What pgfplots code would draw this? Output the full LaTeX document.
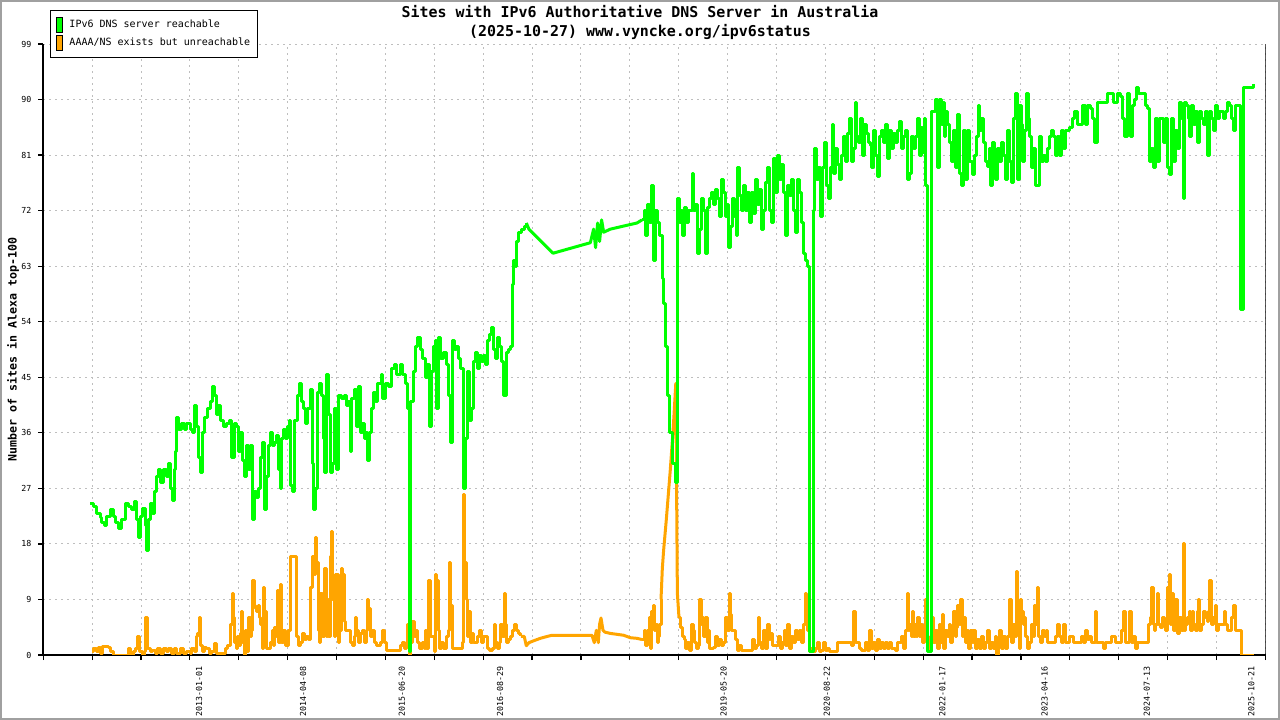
\documentclass[border=0pt]{standalone}
\usepackage{pgfplots}
\pgfplotsset{compat=1.18}
\usepackage{pgfplotstable}
\usepackage{fontspec}
\newfontfamily\mono{DejaVu Sans Mono}
\newcommand\tickfont{\mono\fontsize{4.15bp}{5bp}\selectfont}
\newcommand\legfont{\mono\fontsize{5bp}{6bp}\selectfont}
\newcommand\titlefont{\mono\bfseries\fontsize{7.47bp}{9.5bp}\selectfont}
\newcommand\ylabfont{\mono\bfseries\fontsize{5.81bp}{7bp}\selectfont}
\definecolor{GreenC}{RGB}{0,255,0}
\definecolor{OrangeC}{RGB}{255,165,0}
\definecolor{GridC}{RGB}{190,190,190}
\definecolor{FrameC}{RGB}{160,160,160}

\pgfplotstableread{
year v
2011.673 24.5
2011.713 24
2011.755 23
2011.795 22.3
2011.816 21.5
2011.844 21
2011.876 22.5
2011.917 23.5
2011.957 22.5
2011.977 21.5
2012.018 20.5
2012.059 22
2012.099 24.5
2012.139 24
2012.181 23.5
2012.209 24.8
2012.233 22
2012.261 19
2012.282 22.5
2012.306 23.8
2012.346 21
2012.363 17
2012.383 22
2012.404 24.5
2012.428 23
2012.452 26.5
2012.477 29
2012.505 30
2012.534 28
2012.565 30
2012.598 29
2012.626 31
2012.656 27
2012.671 25
2012.696 30
2012.712 33
2012.729 38.5
2012.753 36.5
2012.781 37.5
2012.817 36.5
2012.850 37.5
2012.890 36.5
2012.923 36
2012.948 40.5
2012.972 37
2012.996 32
2013.021 29.5
2013.045 36
2013.069 38.5
2013.101 40
2013.134 41
2013.167 43.5
2013.191 42
2013.207 39
2013.235 40.5
2013.264 38
2013.296 37
2013.337 37.5
2013.369 38
2013.398 32
2013.426 37.5
2013.459 37
2013.483 33
2013.508 36
2013.532 31.5
2013.556 29
2013.581 34
2013.605 30
2013.629 34
2013.654 22
2013.678 26.5
2013.702 25.5
2013.727 27
2013.751 32
2013.775 34.5
2013.791 23.5
2013.816 29
2013.840 34
2013.864 36
2013.897 34
2013.922 34.5
2013.946 35.5
2013.970 30
2013.986 27
2014.002 35
2014.026 36.5
2014.051 35
2014.075 37
2014.099 38
2014.116 27.5
2014.141 26.5
2014.165 38
2014.197 42
2014.221 44
2014.245 41
2014.270 40
2014.294 37.5
2014.318 40
2014.351 43
2014.376 31
2014.391 23.5
2014.416 27
2014.440 42.5
2014.464 44
2014.489 42
2014.513 35
2014.530 29.5
2014.554 45.5
2014.579 39
2014.603 29.5
2014.628 31
2014.652 40
2014.676 30
2014.701 42
2014.732 41.5
2014.765 42
2014.789 40.5
2014.814 41
2014.838 33
2014.859 41.5
2014.887 43
2014.911 37
2014.935 43.5
2014.960 36
2014.984 37.5
2015.009 35
2015.033 36
2015.049 31.5
2015.073 36
2015.097 40
2015.122 42.5
2015.146 41
2015.170 44
2015.195 44
2015.224 45.5
2015.236 41.5
2015.264 44
2015.304 43.5
2015.346 46.5
2015.374 47
2015.407 45.5
2015.447 47
2015.480 45.5
2015.511 44
2015.536 40
2015.556 0.5
2015.572 41
2015.609 46
2015.633 50
2015.657 51.5
2015.690 49.5
2015.715 48
2015.751 45
2015.779 47
2015.803 37
2015.833 46
2015.852 50
2015.876 51
2015.894 40
2015.918 51.5
2015.942 48
2015.974 49
2016.007 47
2016.031 42
2016.055 34.5
2016.080 51
2016.104 49.5
2016.137 50
2016.161 48
2016.186 46.5
2016.217 27
2016.242 35
2016.266 46
2016.290 38
2016.315 40
2016.339 47.5
2016.363 49
2016.388 46.5
2016.412 48.5
2016.436 47.5
2016.461 48.5
2016.485 47
2016.510 51
2016.534 52
2016.558 53
2016.583 49.5
2016.607 48
2016.631 51.5
2016.656 50
2016.680 47.5
2016.704 42
2016.737 49
2016.770 49.5
2016.794 50
2016.810 60
2016.826 64
2016.850 63
2016.867 67
2016.892 68.5
2016.928 69
2016.956 69.5
2016.981 70
2017.013 69
2017.306 65.1
2017.760 66.8
2017.800 69
2017.824 66
2017.849 70
2017.873 67
2017.897 70.5
2017.922 68.5
2018.003 69
2018.165 69.5
2018.328 70
2018.389 70.5
2018.417 72
2018.433 68
2018.457 73
2018.482 70
2018.506 76
2018.530 64
2018.555 72
2018.579 70
2018.603 68
2018.632 61
2018.652 57
2018.676 50
2018.701 42
2018.721 36
2018.758 31
2018.800 28
2018.815 74
2018.839 70
2018.864 72
2018.880 68
2018.904 72.5
2018.928 70
2018.953 72
2018.998 78
2019.017 72
2019.038 73
2019.058 65
2019.083 69
2019.107 74
2019.132 72
2019.156 65
2019.180 72.5
2019.205 74
2019.229 75
2019.253 73
2019.278 75.5
2019.302 74
2019.326 71
2019.351 77
2019.375 75
2019.399 71
2019.424 73
2019.443 66
2019.464 69.5
2019.488 74
2019.513 71
2019.537 68
2019.553 79
2019.577 74.5
2019.601 72
2019.626 76
2019.650 72
2019.675 75
2019.699 70
2019.723 75
2019.748 71.5
2019.765 77
2019.789 73
2019.813 75.5
2019.838 69
2019.862 72
2019.886 76.5
2019.911 79
2019.935 72
2019.959 70
2019.984 80.5
2020.008 75
2020.032 81
2020.057 77
2020.081 79.5
2020.105 75
2020.130 68
2020.154 76
2020.178 74.5
2020.203 77
2020.227 72
2020.251 68.5
2020.276 77
2020.300 75
2020.325 70
2020.349 65
2020.373 64
2020.398 63
2020.422 0.5
2020.446 0.5
2020.471 72
2020.486 82
2020.511 77
2020.535 79
2020.560 71
2020.584 79
2020.608 83
2020.633 76
2020.657 74
2020.681 79
2020.706 86
2020.721 78
2020.746 82
2020.770 79.5
2020.794 77
2020.819 81
2020.843 84
2020.867 80
2020.892 84.5
2020.916 87
2020.933 80
2020.957 82
2020.982 89.5
2020.998 84
2021.022 83
2021.046 87
2021.071 81
2021.095 86
2021.119 84.5
2021.144 83
2021.168 82.5
2021.184 79
2021.208 85
2021.233 81
2021.257 77.5
2021.281 84
2021.306 85
2021.330 83
2021.354 86
2021.371 80.5
2021.396 85
2021.420 82
2021.444 84.5
2021.469 83
2021.493 85
2021.517 86.5
2021.542 82
2021.566 84
2021.590 85
2021.615 77
2021.639 78
2021.664 84
2021.688 82
2021.712 84
2021.737 87
2021.761 81
2021.785 85.5
2021.801 81.5
2021.825 87
2021.841 76
2021.858 0.5
2021.890 0.5
2021.914 88
2021.939 88
2021.963 90
2021.980 79
2022.004 90
2022.029 86
2022.053 89.5
2022.069 84
2022.085 88
2022.109 86
2022.133 83
2022.158 80
2022.182 85
2022.206 79
2022.231 87.5
2022.255 78
2022.279 76
2022.304 85
2022.328 77
2022.345 85
2022.369 80
2022.385 80
2022.410 77.8
2022.434 81
2022.458 84
2022.483 89
2022.499 85
2022.523 87
2022.547 83
2022.572 80
2022.589 79.2
2022.613 82
2022.629 76
2022.653 83
2022.678 81
2022.693 77
2022.718 82
2022.742 80
2022.766 83
2022.791 81
2022.815 77
2022.840 85
2022.864 80
2022.881 76.5
2022.905 87
2022.929 91
2022.954 77
2022.978 89
2023.002 86
2023.018 80
2023.043 85
2023.067 91
2023.091 87
2023.107 84
2023.132 79
2023.156 82
2023.180 76
2023.197 76
2023.222 84
2023.246 80
2023.270 81
2023.295 80
2023.319 82
2023.343 84
2023.368 85
2023.399 84
2023.424 81
2023.448 84
2023.472 81
2023.497 85
2023.521 82
2023.545 85
2023.587 85.5
2023.627 87
2023.651 88
2023.684 86
2023.724 86
2023.749 89
2023.782 86
2023.806 89
2023.846 88.5
2023.871 87
2023.895 83
2023.928 89.5
2024.008 89.5
2024.049 91
2024.090 91
2024.130 89.5
2024.171 91
2024.211 90.5
2024.236 87
2024.260 84
2024.293 91
2024.317 88
2024.337 84
2024.357 89
2024.382 90
2024.406 92
2024.430 91
2024.475 91
2024.516 89
2024.544 88.5
2024.561 80
2024.585 82
2024.609 79
2024.634 87
2024.658 80
2024.682 87
2024.714 87
2024.738 83
2024.763 87
2024.787 79
2024.811 77.8
2024.836 87
2024.853 80
2024.877 85
2024.901 82
2024.926 89.5
2024.950 87
2024.974 74
2024.990 89.5
2025.015 89
2025.039 87
2025.055 84
2025.079 89
2025.104 86
2025.128 88
2025.152 83
2025.177 88
2025.201 87
2025.225 86
2025.250 88
2025.274 81
2025.298 88
2025.323 87
2025.347 85
2025.372 89
2025.396 87
2025.420 88
2025.469 87
2025.493 88
2025.518 89.5
2025.542 89
2025.566 87
2025.583 85
2025.608 89
2025.656 89
2025.676 56
2025.697 56
2025.705 92
2025.834 92.5
}\reachable

\pgfplotstableread{
year v
2011.694 0.5
2011.713 1
2011.746 0.5
2011.774 1.2
2011.803 0.3
2011.828 1.3
2011.856 1.3
2011.896 1.2
2011.925 0.5
2011.957 0
2012.120 0
2012.139 1
2012.160 0
2012.200 0.5
2012.221 1
2012.249 3
2012.273 0.5
2012.306 0
2012.330 0.5
2012.351 6
2012.371 1
2012.404 0.5
2012.436 0.8
2012.468 0.3
2012.492 1
2012.525 0.3
2012.565 1
2012.598 0.5
2012.631 1
2012.663 0.3
2012.696 1
2012.729 0.3
2012.769 1
2012.809 0.3
2012.850 0.5
2012.890 0.3
2012.911 1
2012.939 0.5
2012.963 3
2012.979 3.5
2013.004 6
2013.021 1.5
2013.045 0.5
2013.061 1.2
2013.094 1
2013.125 0.3
2013.155 0.5
2013.183 1.8
2013.207 0.3
2013.256 0.3
2013.296 0.3
2013.320 1
2013.344 1.5
2013.369 1.5
2013.386 5
2013.402 10
2013.418 6
2013.435 2
2013.450 1
2013.466 3
2013.483 1.5
2013.499 3.5
2013.515 7
2013.532 2
2013.548 0
2013.564 4
2013.581 0.5
2013.605 6
2013.621 3
2013.637 4
2013.654 12
2013.670 8
2013.685 7.5
2013.702 7
2013.718 8
2013.734 6
2013.751 5
2013.767 1
2013.783 11
2013.800 7
2013.816 1
2013.848 1
2013.873 2
2013.889 4
2013.904 1.5
2013.922 4.5
2013.937 3
2013.953 10.5
2013.970 2
2013.986 11.5
2014.002 2
2014.026 4
2014.051 1.5
2014.083 4
2014.108 16
2014.141 16
2014.169 16
2014.189 3
2014.209 1.5
2014.238 2
2014.262 3.5
2014.287 2.5
2014.311 3
2014.335 2.5
2014.360 11
2014.384 16
2014.400 13
2014.416 19
2014.433 15
2014.449 4
2014.464 2
2014.481 10
2014.506 3
2014.530 14
2014.546 3
2014.562 9
2014.579 3
2014.595 16
2014.610 20
2014.628 9
2014.643 3
2014.659 13
2014.676 13
2014.692 2
2014.708 4
2014.732 14
2014.749 13
2014.765 5.5
2014.781 4
2014.798 4
2014.822 4
2014.838 2
2014.862 1.5
2014.887 3
2014.903 6
2014.920 4
2014.944 2
2014.968 3.5
2014.993 4
2015.009 2
2015.033 4
2015.049 9
2015.066 7.5
2015.082 3
2015.106 4
2015.130 2
2015.163 1.5
2015.203 2
2015.228 4
2015.252 2
2015.276 0.8
2015.407 0.8
2015.447 1.5
2015.471 2
2015.495 1
2015.520 2
2015.536 5
2015.553 2
2015.560 0
2015.577 2
2015.593 5.5
2015.617 3
2015.642 4
2015.657 2
2015.682 1
2015.715 2
2015.739 1
2015.755 4
2015.772 1
2015.796 12
2015.820 3
2015.845 3
2015.861 0.5
2015.876 13
2015.894 12
2015.909 4
2015.925 1
2015.950 2
2015.974 1
2015.998 1
2016.015 3
2016.031 4
2016.047 15
2016.064 8
2016.080 1
2016.128 1
2016.177 1
2016.202 2
2016.217 26
2016.234 15
2016.250 9
2016.266 3
2016.283 7
2016.299 2
2016.323 3.5
2016.339 2
2016.363 2
2016.388 3
2016.412 4
2016.436 2
2016.461 3
2016.485 3
2016.510 1
2016.534 0.8
2016.567 1
2016.591 5
2016.607 2
2016.631 1
2016.656 2
2016.673 5
2016.697 3
2016.713 10
2016.729 5
2016.746 2
2016.770 2.5
2016.794 3
2016.819 4
2016.843 5
2016.867 4
2016.892 3.5
2016.916 3
2016.956 3
2016.981 1.5
2017.013 2
2017.070 2.3
2017.151 2.7
2017.233 3
2017.293 3.2
2017.780 3.2
2017.808 2
2017.833 4
2017.857 2
2017.873 5
2017.890 6
2017.914 4
2017.939 3.7
2018.003 3.5
2018.165 3.2
2018.247 2.8
2018.328 2.7
2018.389 2.5
2018.417 4
2018.433 1.5
2018.457 4
2018.474 6
2018.490 1
2018.506 7
2018.523 8
2018.539 4
2018.555 5
2018.572 2
2018.587 3
2018.603 5
2018.620 9
2018.636 14
2018.652 17
2018.685 22
2018.733 30
2018.770 37
2018.800 44
2018.819 10
2018.839 6
2018.855 4.5
2018.880 3
2018.904 2.5
2018.920 1
2018.944 2
2018.968 0.8
2018.985 5
2019.010 4
2019.026 2
2019.050 1
2019.074 1.5
2019.090 9
2019.107 5
2019.123 6
2019.139 3
2019.163 6
2019.180 2
2019.196 4
2019.212 1
2019.236 1
2019.261 1.2
2019.285 3
2019.309 1.5
2019.334 2.5
2019.358 1.5
2019.382 2
2019.407 6
2019.424 4
2019.448 10
2019.464 6.5
2019.480 4
2019.504 4
2019.528 2.5
2019.545 0.8
2019.570 1.5
2019.594 0.8
2019.707 0.8
2019.732 2.5
2019.756 1
2019.780 1.5
2019.805 6
2019.821 2
2019.845 1
2019.869 4
2019.894 1
2019.911 5
2019.935 2.5
2019.951 3.5
2019.975 1.5
2020.048 3
2020.073 1
2020.097 2
2020.121 4
2020.137 1.5
2020.161 5
2020.186 1
2020.210 3
2020.234 2
2020.259 4
2020.283 2.5
2020.307 4
2020.332 2
2020.356 5
2020.373 10
2020.389 8
2020.405 4
2020.422 0.5
2020.454 1
2020.478 0.5
2020.502 1
2020.527 2
2020.551 0.5
2020.575 0.8
2020.600 2
2020.624 0.8
2020.648 1
2020.673 0.5
2020.746 0.5
2020.770 2
2020.916 2
2020.940 1.5
2020.965 7
2020.989 2
2021.013 2
2021.038 1
2021.062 0.8
2021.087 0.8
2021.111 2
2021.135 0.8
2021.160 4
2021.184 1
2021.208 2
2021.233 0.8
2021.257 2.5
2021.281 1
2021.306 2
2021.330 1
2021.354 2
2021.379 1
2021.403 2
2021.427 1
2021.476 0.8
2021.500 2
2021.525 2
2021.549 3
2021.573 1
2021.598 4
2021.615 10
2021.631 4
2021.647 5
2021.664 3
2021.679 7
2021.695 3
2021.712 5
2021.728 3
2021.744 6
2021.761 3
2021.777 5
2021.801 2
2021.825 4
2021.841 9
2021.858 2
2021.874 0.5
2021.898 3
2021.923 6
2021.939 2
2021.963 4
2021.980 1
2022.004 5
2022.020 2
2022.045 6.5
2022.060 1
2022.085 4
2022.109 3
2022.126 5
2022.142 2
2022.166 4
2022.182 7
2022.199 3
2022.215 4.5
2022.231 8
2022.248 5
2022.264 9
2022.284 3
2022.304 6
2022.321 2
2022.345 4
2022.361 1
2022.385 4
2022.410 2
2022.426 4
2022.443 1
2022.467 2.5
2022.491 1
2022.516 3
2022.540 1
2022.564 2
2022.589 4
2022.613 1
2022.637 2
2022.662 1
2022.686 3
2022.702 0
2022.726 2
2022.742 4
2022.766 1
2022.791 3
2022.815 1
2022.840 3
2022.864 9
2022.881 2
2022.905 5
2022.929 3
2022.945 13.5
2022.961 5
2022.978 1
2022.994 9
2023.010 7
2023.027 5
2023.043 6
2023.059 3
2023.076 1
2023.100 2
2023.124 5
2023.149 3
2023.165 8
2023.180 5
2023.197 11
2023.213 3
2023.237 2
2023.262 4
2023.286 3
2023.311 4
2023.327 2
2023.392 2
2023.417 3
2023.441 5
2023.465 3
2023.489 2
2023.514 5
2023.538 2
2023.562 2
2023.587 3
2023.611 3
2023.636 2
2023.733 3
2023.757 2
2023.782 4
2023.806 2.5
2023.830 3
2023.855 2
2023.879 2
2023.903 7
2023.919 2
2023.984 2
2024.008 1
2024.033 2
2024.098 3
2024.122 3
2024.147 2
2024.203 2
2024.227 4
2024.251 7
2024.276 2
2024.300 2
2024.325 7
2024.349 2
2024.373 3
2024.398 1
2024.422 2
2024.528 2
2024.552 5
2024.577 6
2024.592 11
2024.609 5
2024.625 4
2024.641 5
2024.658 10
2024.674 5
2024.698 4.5
2024.723 6
2024.747 5
2024.763 4
2024.780 11
2024.804 13
2024.820 5
2024.836 10
2024.853 4
2024.877 9
2024.901 3.5
2024.926 6
2024.950 4
2024.974 18
2024.990 4
2025.006 5
2025.031 6
2025.048 7
2025.064 4
2025.088 7
2025.104 5
2025.128 4
2025.145 7
2025.161 9
2025.177 4
2025.201 5
2025.218 7
2025.242 6
2025.267 5.5
2025.283 7
2025.299 12
2025.315 5
2025.340 6
2025.364 8
2025.380 4
2025.404 5
2025.453 5
2025.477 7
2025.493 5
2025.518 4
2025.542 4
2025.566 6
2025.583 8
2025.599 8
2025.615 4
2025.664 4
2025.681 0
2025.834 0
}\unreachable

\begin{document}
\begin{tikzpicture}
\useasboundingbox (0,0) rectangle (640bp,360bp);
\fill[white] (0,0) rectangle (640bp,360bp);
\draw[FrameC, line width=1bp] (0.5bp,0.5bp) rectangle (639.5bp,359.5bp);
\begin{axis}[
  at={(21.6bp,32.5bp)}, anchor=south west,
  scale only axis, width=611.15bp, height=305.5bp,
  xmin=2011.103, xmax=2025.975,
  ymin=0, ymax=99,
  axis x line*=bottom, axis y line*=left,
  axis line style={line width=1bp, black},
  ytick={0,9,...,99},
  minor ytick={0,9,...,99},
  xtick={2013.000,2014.266,2015.466,2016.661,2019.381,2020.639,2022.044,2023.288,2024.530,2025.803},
  xticklabels={2013-01-01,2014-04-08,2015-06-20,2016-08-29,2019-05-20,2020-08-22,2022-01-17,2023-04-16,2024-07-13,2025-10-21},
  minor xtick={2011.103,2011.698,2012.293,2012.887,2013.482,2014.077,2014.672,2015.267,2015.861,2016.456,2017.051,2017.646,2018.241,2018.835,2019.430,2020.025,2020.620,2021.215,2021.809,2022.404,2022.999,2023.594,2024.189,2024.783,2025.378,2025.973},
  tick align=outside,
  major tick length=0pt, minor tick length=2.5bp,
  tick style={black, line width=0.6bp},
  xmajorgrids=false, ymajorgrids=false, xminorgrids=true, yminorgrids=true,
  minor grid style={draw=GridC, line width=0.5bp, dash pattern=on 1bp off 2bp},
  /pgf/number format/assume math mode=true,
  ticklabel style={font=\tickfont, inner sep=0pt},
  xticklabel shift=5.5bp,
  yticklabel shift=5.75bp,
  xticklabel style={rotate=90, anchor=east},
  yticklabel style={anchor=east},
  ylabel={Number of sites in Alexa top-100},
  every axis y label/.style={at={(-0.02471,0.5)}, rotate=90, anchor=center, font=\ylabfont, inner sep=0pt},
  title={Sites with IPv6 Authoritative DNS Server in Australia\\(2025-10-27) www.vyncke.org/ipv6status},
  every axis title/.style={at={(0.48826,1.0352)}, anchor=center, align=center, font=\titlefont, inner sep=0pt},
  legend image code/.code={\draw[#1] (0bp,-3.8bp) rectangle (3bp,3.8bp);},
  legend cell align=left,
  legend style={at={(0.00556,1.0557)}, anchor=north west, draw=black, line width=0.5bp, fill=white,
    inner xsep=3bp, inner ysep=3.3bp, row sep=0.9bp, column sep=2.5bp, font=\legfont,
    nodes={inner xsep=0.5bp, inner ysep=0pt, text height=3.9bp, text depth=1.2bp}},
  series/.style={forget plot, line width=1.5bp, line join=round},
]
\addlegendimage{draw=black, fill=GreenC, line width=0.5bp}
\addlegendentry{IPv6 DNS server reachable}
\addlegendimage{draw=black, fill=OrangeC, line width=0.5bp}
\addlegendentry{AAAA/NS exists but unreachable}
% unreachable series: stepped where samples are dense, straight where sparse
\addplot[series, OrangeC, const plot, restrict x to domain=2011:2016.917] table[x=year, y=v] {\unreachable};
\addplot[series, OrangeC, sharp plot, restrict x to domain=2016.915:2018.390] table[x=year, y=v] {\unreachable};
\addplot[series, OrangeC, const plot, restrict x to domain=2018.388:2018.621] table[x=year, y=v] {\unreachable};
\addplot[series, OrangeC, sharp plot, restrict x to domain=2018.619:2018.840] table[x=year, y=v] {\unreachable};
\addplot[series, OrangeC, const plot, restrict x to domain=2018.838:2026] table[x=year, y=v] {\unreachable};
% reachable series
\addplot[series, GreenC, const plot, restrict x to domain=2011:2016.982] table[x=year, y=v] {\reachable};
\addplot[series, GreenC, sharp plot, restrict x to domain=2016.980:2018.390] table[x=year, y=v] {\reachable};
\addplot[series, GreenC, const plot, restrict x to domain=2018.388:2026] table[x=year, y=v] {\reachable};
\draw[black, line width=1bp] (rel axis cs:1,0) -- (rel axis cs:1,1);
\end{axis}
\end{tikzpicture}
\end{document}
